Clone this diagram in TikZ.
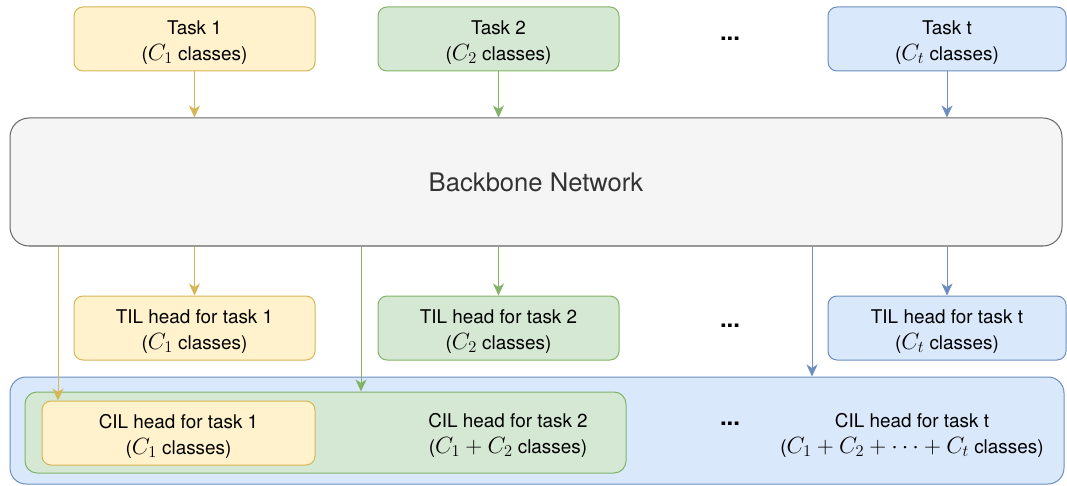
\RequirePackage{fix-cm}
\documentclass[tikz,border=0pt]{standalone}
\usepackage{fontspec}
\setmainfont{TeX Gyre Heros}
\usetikzlibrary{arrows.meta,calc}

\definecolor{yfill}{HTML}{FFF2CC}\definecolor{ydraw}{HTML}{D6B656}
\definecolor{gfill}{HTML}{D5E8D4}\definecolor{gdraw}{HTML}{82B366}
\definecolor{bfill}{HTML}{DAE8FC}\definecolor{bdraw}{HTML}{6C8EBF}
\definecolor{nfill}{HTML}{F5F5F5}\definecolor{ndraw}{HTML}{666666}
\definecolor{ntext}{HTML}{333333}

% math typeset a little larger than the surrounding text
\newcommand{\mth}[1]{{\fontsize{23.5}{25}\selectfont$#1$}}
% tall strut on the first line, to sit two-line labels a bit lower
\newcommand{\topstrut}{\rule{0pt}{21pt}}

\tikzset{
  box/.style={draw, line width=1pt, rounded corners=9pt, align=center,
    inner sep=0pt, font=\fontsize{18.9}{25.5}\selectfont},
  ybox/.style={box, fill=yfill, draw=ydraw},
  gbox/.style={box, fill=gfill, draw=gdraw},
  bbox/.style={box, fill=bfill, draw=bdraw},
  lbl/.style={align=center, inner sep=0pt, font=\fontsize{18.9}{25.5}\selectfont},
  dots/.style={inner sep=0pt, font=\fontsize{24}{28}\selectfont\bfseries},
  arr/.style={line width=1pt, -{Stealth[length=12pt,width=11pt,inset=3.5pt]}},
  yarr/.style={arr, draw=ydraw, fill=ydraw},
  garr/.style={arr, draw=gdraw, fill=gdraw},
  barr/.style={arr, draw=bdraw, fill=bdraw},
}

\begin{document}
\begin{tikzpicture}[x=1pt,y=-1pt]
\useasboundingbox (0,0) rectangle (1067,486);

% task inputs
\node[ybox, minimum width=241pt, minimum height=64pt] (t1) at (194.5,39) {\topstrut Task 1\\(\mth{C_1} classes)};
\node[gbox, minimum width=241pt, minimum height=64pt] (t2) at (498.5,39) {\topstrut Task 2\\(\mth{C_2} classes)};
\node[bbox, minimum width=238pt, minimum height=64pt] (tt) at (947,39) {\topstrut Task t\\(\mth{C_t} classes)};
\node[dots] (d1) at (730,39) {...};

% shared backbone
\node[box, fill=nfill, draw=ndraw, rounded corners=19pt, minimum width=1052pt, minimum height=128pt,
  text=ntext, font=\fontsize{25.6}{30}\selectfont] (bb) at (536,182) {Backbone Network};

% task-incremental heads
\node[ybox, minimum width=241pt, minimum height=64pt] (til1) at (194.5,328) {\topstrut TIL head for task 1\\(\mth{C_1} classes)};
\node[gbox, minimum width=241pt, minimum height=64pt] (til2) at (498.5,328) {\topstrut TIL head for task 2\\(\mth{C_2} classes)};
\node[bbox, minimum width=238pt, minimum height=64pt] (tilt) at (947,328) {\topstrut TIL head for task t\\(\mth{C_t} classes)};
\node[dots] (d2) at (730,326) {...};

% class-incremental heads (nested)
\node[bbox, rounded corners=16pt, minimum width=1054pt, minimum height=107pt] (cilt) at (537,430.5) {};
\node[gbox, rounded corners=12pt, minimum width=601pt, minimum height=81pt] (cil2) at (325.5,432.5) {};
\node[ybox, minimum width=273pt, minimum height=64pt] (cil1) at (178.5,433) {\topstrut CIL head for task 1\\(\mth{C_1} classes)};
\node[lbl] (cil2l) at (508,432) {\topstrut CIL head for task 2\\(\mth{C_1+C_2} classes)};
\node[lbl] (ciltl) at (912,432) {\topstrut CIL head for task t\\(\mth{C_1+C_2+\cdots+C_t} classes)};
\node[dots] (d3) at (730,424) {...};

% inputs into the backbone
\draw[yarr] (t1) -- (t1 |- bb.north);
\draw[garr] (t2) -- (t2 |- bb.north);
\draw[barr] (tt) -- (tt |- bb.north);

% backbone into TIL heads
\draw[yarr] (til1 |- bb.south) -- (til1);
\draw[garr] (til2 |- bb.south) -- (til2);
\draw[barr] (tilt |- bb.south) -- (tilt);

% backbone into CIL heads
\coordinate (cx1) at (58,0);
\coordinate (cx2) at (361,0);
\coordinate (cxt) at (812,0);
\draw[yarr] (bb.south -| cx1) -- (cil1.north -| cx1);
\draw[garr] (bb.south -| cx2) -- (cil2.north -| cx2);
\draw[barr] (bb.south -| cxt) -- (cilt.north -| cxt);
\end{tikzpicture}
\end{document}
